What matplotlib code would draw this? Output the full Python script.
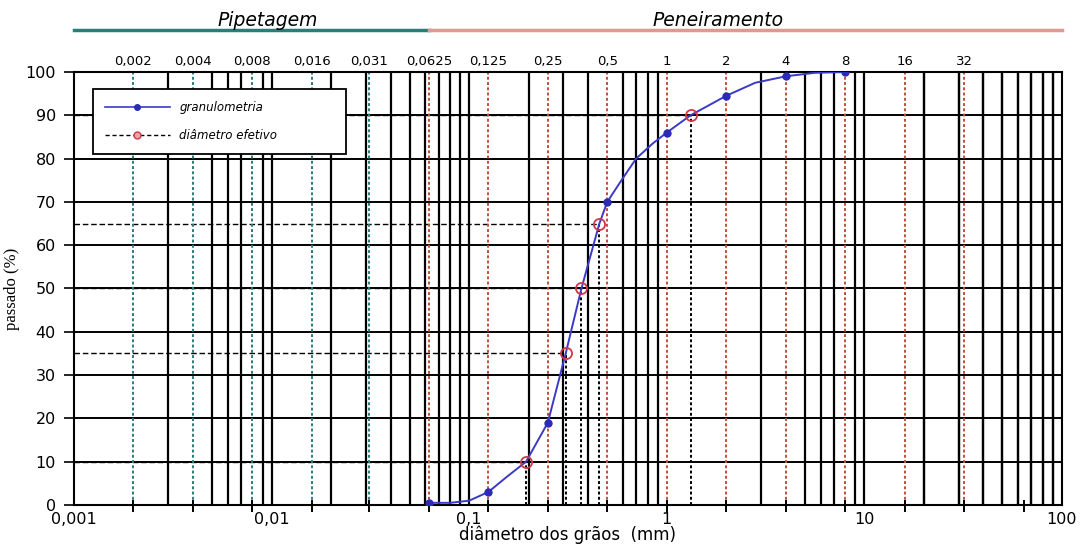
import matplotlib.pyplot as plt
import numpy as np
from matplotlib.lines import Line2D
from matplotlib.ticker import FixedLocator, NullLocator
from matplotlib.transforms import blended_transform_factory

# granulometric data (sieve sizes in mm, % passing)
sieve_mm = [0.0625, 0.125, 0.25, 0.5, 1, 2, 4, 8]
passing = [0.5, 3, 19, 70, 86, 94.5, 99, 100]

# smoothed curve as drawn through the points
curve_mm = [0.0625, 0.08, 0.1, 0.125, 0.155, 0.194, 0.25, 0.308, 0.37, 0.456,
            0.5, 0.6, 0.7, 0.85, 1, 1.32, 2, 2.8, 4, 5.6, 8]
curve_pct = [0.5, 0.5, 1.0, 3, 6.5, 10, 19, 35, 50, 65,
             70, 75.5, 80, 83.5, 86, 90, 94.5, 97.5, 99, 99.8, 100]

# effective diameters D10, D35, D50, D65, D90
d_eff_pct = [10, 35, 50, 65, 90]
d_eff_mm = [0.194, 0.308, 0.370, 0.456, 1.32]

# phi classes (top scale)
pipet_mm = [0.002, 0.004, 0.008, 0.016, 0.031]
pipet_labels = ['0,002', '0,004', '0,008', '0,016', '0,031']
sieve_cls_mm = [0.0625, 0.125, 0.25, 0.5, 1, 2, 4, 8, 16, 32]
sieve_cls_labels = ['0,0625', '0,125', '0,25', '0,5', '1', '2', '4', '8', '16', '32']
phi_ticks = [0.002, 0.004, 0.008, 0.016, 0.031, 0.0625, 0.125, 0.25, 0.5,
             1, 2, 4, 8, 16, 32, 64]

decades = [0.001, 0.01, 0.1, 1, 10, 100]
decade_labels = ['0,001', '0,01', '0,1', '1', '10', '100']

plt.rcParams['font.family'] = ['DejaVu Sans']

fig = plt.figure(figsize=(10.8, 5.44), dpi=100)
ax = fig.add_axes([0.0685, 0.0717, 0.9148, 0.7960])
ax.set_xscale('log')
ax.set_xlim(0.001, 100)
ax.set_ylim(0, 100)

ax.xaxis.set_major_locator(FixedLocator(decades))
ax.xaxis.set_minor_locator(NullLocator())
ax.set_xticklabels(decade_labels)
ax.yaxis.set_major_locator(FixedLocator(range(0, 101, 10)))
ax.tick_params(axis='x', which='both', length=0, pad=5, labelsize=11.5)
ax.tick_params(axis='y', direction='out', length=7, width=1.2, pad=6, labelsize=11.5)
for sp in ax.spines.values():
    sp.set_linewidth(1.5)

# log grid (1..9 per decade), skipping positions taken by class boundaries
classes = pipet_mm + sieve_cls_mm
grid_x = []
for e in range(-3, 2):
    for m in range(1, 10):
        v = m * 10.0 ** e
        if v > 0.001 and min(abs(np.log10(v / c)) for c in classes) > 0.01:
            grid_x.append(v)
grid_x += [10 * m for m in range(2, 10)]
ax.vlines(grid_x, 0, 100, color='black', lw=1.6, zorder=1)
ax.hlines(range(10, 100, 10), 0.001, 100, color='black', lw=1.4, zorder=1)

# class boundaries
ax.vlines(pipet_mm, 0, 100, color='#2a7d7a', lw=1.4, ls=(0, (1.5, 1.2)), zorder=1.5)
ax.vlines(sieve_cls_mm, 0, 100, color='#c0503c', lw=1.4, ls=(0, (1.5, 1.2)), zorder=1.5)

# effective diameter guides
for d, p in zip(d_eff_mm, d_eff_pct):
    ax.plot([0.001, d], [p, p], color='black', lw=1.0, ls=(0, (4, 2)), zorder=0.8)
    ax.plot([d, d], [0, p], color='black', lw=1.4, ls=(0, (1.5, 1.2)), zorder=2)

ax.plot(curve_mm, curve_pct, color='#3a3ac8', lw=1.4, zorder=3)
ax.plot(sieve_mm, passing, ls='none', marker='o', ms=5, color='#2b2bb8', zorder=4)
ax.plot(d_eff_mm, d_eff_pct, ls='none', marker='o', ms=8, mfc='none',
        mec='#d03848', mew=1.3, zorder=4)

tr = blended_transform_factory(ax.transData, ax.transAxes)

# phi ticks across the bottom axis
ax.vlines(phi_ticks, -0.017, 0.012, color='black', lw=1.4, transform=tr, clip_on=False)

# class labels on top
top = ax.secondary_xaxis('top')
top.set_xticks(pipet_mm + sieve_cls_mm)
top.set_xticklabels(pipet_labels + sieve_cls_labels)
top.xaxis.set_minor_locator(NullLocator())
top.tick_params(length=0, pad=3, labelsize=9.5)
top.spines['top'].set_visible(False)

ax.set_xlabel('diâmetro dos grãos  (mm)', fontsize=12, labelpad=-1)
ax.set_ylabel('passado (%)', family=['Liberation Serif'], fontsize=12, labelpad=4)

# method headers
ax.plot([0.001, 0.0625], [1.097, 1.097], color='#2a7d7a', lw=2.5, transform=tr, clip_on=False)
ax.plot([0.0625, 100], [1.097, 1.097], color='#dc9a90', lw=2.5, transform=tr, clip_on=False)
ax.text(0.196, 1.12, 'Pipetagem', transform=ax.transAxes, ha='center', va='center',
        style='italic', fontsize=13.5)
ax.text(0.652, 1.12, 'Peneiramento', transform=ax.transAxes, ha='center', va='center',
        style='italic', fontsize=13.5)

handles = [
    Line2D([], [], color='#3a3ac8', lw=1.2, marker='o', ms=4, mfc='#2b2bb8', mec='#2b2bb8'),
    Line2D([], [], color='black', lw=1.0, ls=(0, (3, 2)), marker='o', ms=5,
           mfc='#f0a0a8', mec='#d03848'),
]
leg = ax.legend(handles, ['granulometria', 'diâmetro efetivo'], loc='upper left',
                bbox_to_anchor=(0.0192, 0.961, 0.256, 0.0), mode='expand',
                prop={'style': 'italic', 'size': 8.5}, handlelength=5.5,
                labelspacing=1.3, borderpad=1.0, borderaxespad=0, alignment='center',
                fancybox=False, framealpha=1, edgecolor='black')
leg.get_frame().set_linewidth(1.3)
leg.set_zorder(5)

fig.savefig('out.png', dpi=100)
